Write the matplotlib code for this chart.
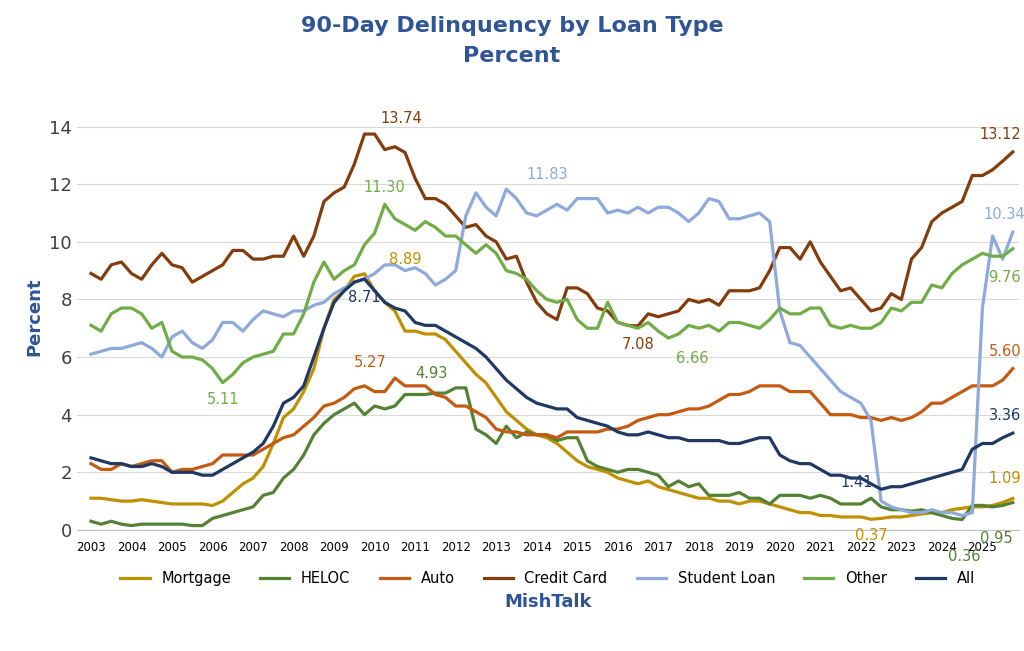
import numpy as np
import matplotlib
matplotlib.use("Agg")
import matplotlib.pyplot as plt

years = np.arange(2003, 2026)
quarters = np.arange(2003, 2026, 0.25)

mortgage = [1.1, 1.1, 1.05, 1.0, 1.0, 1.05, 1.0, 0.95, 0.9, 0.9, 0.9, 0.9, 0.85, 1.0, 1.3, 1.6,
            1.8, 2.2, 3.0, 3.9, 4.2, 4.8, 5.6, 7.0, 8.0, 8.3, 8.8, 8.89, 8.3, 7.9, 7.6, 6.9,
            6.9, 6.8, 6.8, 6.6, 6.2, 5.8, 5.4, 5.1, 4.6, 4.1, 3.8, 3.5, 3.3, 3.2, 3.0, 2.7,
            2.4, 2.2, 2.1, 2.0, 1.8, 1.7, 1.6, 1.7, 1.5, 1.4, 1.3, 1.2, 1.1, 1.1, 1.0, 1.0,
            0.9, 1.0, 1.0, 0.9, 0.8, 0.7, 0.6, 0.6, 0.5, 0.5, 0.45, 0.45, 0.45, 0.37, 0.4, 0.45,
            0.45, 0.5, 0.55, 0.6, 0.6, 0.7, 0.75, 0.8, 0.8, 0.85, 0.95, 1.09]
heloc = [0.3, 0.2, 0.3, 0.2, 0.15, 0.2, 0.2, 0.2, 0.2, 0.2, 0.15, 0.15, 0.4, 0.5, 0.6, 0.7,
         0.8, 1.2, 1.3, 1.8, 2.1, 2.6, 3.3, 3.7, 4.0, 4.2, 4.4, 4.0, 4.3, 4.2, 4.3, 4.7,
         4.7, 4.7, 4.75, 4.75, 4.93, 4.93, 3.5, 3.3, 3.0, 3.6, 3.2, 3.4, 3.3, 3.3, 3.1, 3.2,
         3.2, 2.4, 2.2, 2.1, 2.0, 2.1, 2.1, 2.0, 1.9, 1.5, 1.7, 1.5, 1.6, 1.2, 1.2, 1.2,
         1.3, 1.1, 1.1, 0.9, 1.2, 1.2, 1.2, 1.1, 1.2, 1.1, 0.9, 0.9, 0.9, 1.1, 0.8, 0.7,
         0.7, 0.65, 0.7, 0.6, 0.5, 0.4, 0.36, 0.85, 0.85, 0.8, 0.85, 0.95]
auto = [2.3, 2.1, 2.1, 2.3, 2.2, 2.3, 2.4, 2.4, 2.0, 2.1, 2.1, 2.2, 2.3, 2.6, 2.6, 2.6,
        2.6, 2.8, 3.0, 3.2, 3.3, 3.6, 3.9, 4.3, 4.4, 4.6, 4.9, 5.0, 4.8, 4.8, 5.27, 5.0,
        5.0, 5.0, 4.7, 4.6, 4.3, 4.3, 4.1, 3.9, 3.5, 3.4, 3.4, 3.3, 3.3, 3.3, 3.2, 3.4,
        3.4, 3.4, 3.4, 3.5, 3.5, 3.6, 3.8, 3.9, 4.0, 4.0, 4.1, 4.2, 4.2, 4.3, 4.5, 4.7,
        4.7, 4.8, 5.0, 5.0, 5.0, 4.8, 4.8, 4.8, 4.4, 4.0, 4.0, 4.0, 3.9, 3.9, 3.8, 3.9,
        3.8, 3.9, 4.1, 4.4, 4.4, 4.6, 4.8, 5.0, 5.0, 5.0, 5.2, 5.6]
credit = [8.9, 8.7, 9.2, 9.3, 8.9, 8.7, 9.2, 9.6, 9.2, 9.1, 8.6, 8.8, 9.0, 9.2, 9.7, 9.7,
          9.4, 9.4, 9.5, 9.5, 10.2, 9.5, 10.2, 11.4, 11.7, 11.9, 12.7, 13.74, 13.74, 13.2, 13.3, 13.1,
          12.2, 11.5, 11.5, 11.3, 10.9, 10.5, 10.6, 10.2, 10.0, 9.4, 9.5, 8.6, 7.9, 7.5, 7.3, 8.4,
          8.4, 8.2, 7.7, 7.6, 7.2, 7.1, 7.08, 7.5, 7.4, 7.5, 7.6, 8.0, 7.9, 8.0, 7.8, 8.3,
          8.3, 8.3, 8.4, 9.0, 9.8, 9.8, 9.4, 10.0, 9.3, 8.8, 8.3, 8.4, 8.0, 7.6, 7.7, 8.2,
          8.0, 9.4, 9.8, 10.7, 11.0, 11.2, 11.4, 12.3, 12.3, 12.5, 12.8, 13.12]
student = [6.1, 6.2, 6.3, 6.3, 6.4, 6.5, 6.3, 6.0, 6.7, 6.9, 6.5, 6.3, 6.6, 7.2, 7.2, 6.9,
           7.3, 7.6, 7.5, 7.4, 7.6, 7.6, 7.8, 7.9, 8.2, 8.4, 8.6, 8.7, 8.9, 9.2, 9.2, 9.0,
           9.1, 8.9, 8.5, 8.7, 9.0, 10.9, 11.7, 11.2, 10.9, 11.83, 11.5, 11.0, 10.9, 11.1, 11.3, 11.1,
           11.5, 11.5, 11.5, 11.0, 11.1, 11.0, 11.2, 11.0, 11.2, 11.2, 11.0, 10.7, 11.0, 11.5, 11.4, 10.8,
           10.8, 10.9, 11.0, 10.7, 7.6, 6.5, 6.4, 6.0, 5.6, 5.2, 4.8, 4.6, 4.4, 3.8, 1.0, 0.8,
           0.7, 0.6, 0.6, 0.7, 0.6, 0.6, 0.5, 0.6, 7.7, 10.2, 9.4, 10.34]
other = [7.1, 6.9, 7.5, 7.7, 7.7, 7.5, 7.0, 7.2, 6.2, 6.0, 6.0, 5.9, 5.6, 5.11, 5.4, 5.8,
         6.0, 6.1, 6.2, 6.8, 6.8, 7.5, 8.6, 9.3, 8.7, 9.0, 9.2, 9.9, 10.3, 11.3, 10.8, 10.6,
         10.4, 10.7, 10.5, 10.2, 10.2, 9.9, 9.6, 9.9, 9.6, 9.0, 8.9, 8.7, 8.3, 8.0, 7.9, 8.0,
         7.3, 7.0, 7.0, 7.9, 7.2, 7.1, 7.0, 7.2, 6.9, 6.66, 6.8, 7.1, 7.0, 7.1, 6.9, 7.2,
         7.2, 7.1, 7.0, 7.3, 7.7, 7.5, 7.5, 7.7, 7.7, 7.1, 7.0, 7.1, 7.0, 7.0, 7.2, 7.7,
         7.6, 7.9, 7.9, 8.5, 8.4, 8.9, 9.2, 9.4, 9.6, 9.5, 9.5, 9.76]
all_loans = [2.5, 2.4, 2.3, 2.3, 2.2, 2.2, 2.3, 2.2, 2.0, 2.0, 2.0, 1.9, 1.9, 2.1, 2.3, 2.5,
             2.7, 3.0, 3.6, 4.4, 4.6, 5.0, 6.0, 7.0, 7.9, 8.3, 8.6, 8.71, 8.3, 7.9, 7.7, 7.6,
             7.2, 7.1, 7.1, 6.9, 6.7, 6.5, 6.3, 6.0, 5.6, 5.2, 4.9, 4.6, 4.4, 4.3, 4.2, 4.2,
             3.9, 3.8, 3.7, 3.6, 3.4, 3.3, 3.3, 3.4, 3.3, 3.2, 3.2, 3.1, 3.1, 3.1, 3.1, 3.0,
             3.0, 3.1, 3.2, 3.2, 2.6, 2.4, 2.3, 2.3, 2.1, 1.9, 1.9, 1.8, 1.8, 1.6, 1.41, 1.5,
             1.5, 1.6, 1.7, 1.8, 1.9, 2.0, 2.1, 2.8, 3.0, 3.0, 3.2, 3.36]

series = [("Mortgage", mortgage, "#BF9000"), ("HELOC", heloc, "#548235"),
          ("Auto", auto, "#C55A11"), ("Credit Card", credit, "#843C0C"),
          ("Student Loan", student, "#8EA9DB"), ("Other", other, "#70AD47"),
          ("All", all_loans, "#203864")]
colors = {n: c for n, _, c in series}
data = {n: v for n, v, _ in series}

# label: (series, quarter index, dx, dy)
labels = [("Credit Card", 27, 0.9, 0.55), ("Other", 29, 0.0, 0.6), ("Mortgage", 27, 1.0, 0.5),
          ("All", 27, 0.0, -0.65), ("Other", 13, 0.0, -0.6), ("Auto", 30, -0.6, 0.55),
          ("HELOC", 36, -0.6, 0.5), ("Student Loan", 41, 1.0, 0.5), ("Credit Card", 54, 0.0, -0.65),
          ("Other", 57, 0.6, -0.7), ("All", 78, -0.6, 0.25), ("Mortgage", 77, 0.0, -0.55),
          ("HELOC", 86, 0.05, -1.3), ("Credit Card", 91, -0.3, 0.6), ("Student Loan", 91, -0.2, 0.6),
          ("Other", 91, -0.2, -1.0), ("Auto", 91, -0.2, 0.6), ("All", 91, -0.2, 0.6),
          ("Mortgage", 91, -0.2, 0.7), ("HELOC", 91, -0.4, -1.25)]

fig = plt.figure(figsize=(10.24, 6.51), dpi=100)
ax = fig.add_axes([0.075, 0.186, 0.92, 0.655])
for name, vals, c in series:
    ax.plot(quarters, vals, color=c, lw=2.3, label=name)
for name, i, dx, dy in labels:
    v = data[name][i]
    ax.text(quarters[i] + dx, v + dy, "%.2f" % v, color=colors[name], fontsize=10.5,
            ha="center", va="center", clip_on=False)

ax.set_xlim(2002.65, 2025.9)
ax.set_ylim(0, 14.8)
ax.set_yticks(range(0, 15, 2))
ax.set_xticks(years)
ax.tick_params(axis="x", labelsize=8.5, length=0, pad=8)
ax.tick_params(axis="y", labelsize=13, length=0, colors="#404040")
ax.grid(axis="y", color="#D9D9D9")
for s in ["top", "right", "left"]:
    ax.spines[s].set_visible(False)
ax.spines["bottom"].set_color("#BFBFBF")
ax.set_ylabel("Percent", color="#2F5597", fontsize=13, fontweight="bold")
ax.set_xlabel("MishTalk", color="#2F5597", fontsize=13, fontweight="bold", labelpad=28)
fig.suptitle("90-Day Delinquency by Loan Type\nPercent", color="#2F5597", fontsize=16,
             fontweight="bold", y=0.975, linespacing=1.6)
ax.legend(loc="upper center", bbox_to_anchor=(0.5, -0.065), ncol=7, frameon=False,
          fontsize=10.5, handlelength=2, columnspacing=2)
fig.savefig("out.png", dpi=100)
